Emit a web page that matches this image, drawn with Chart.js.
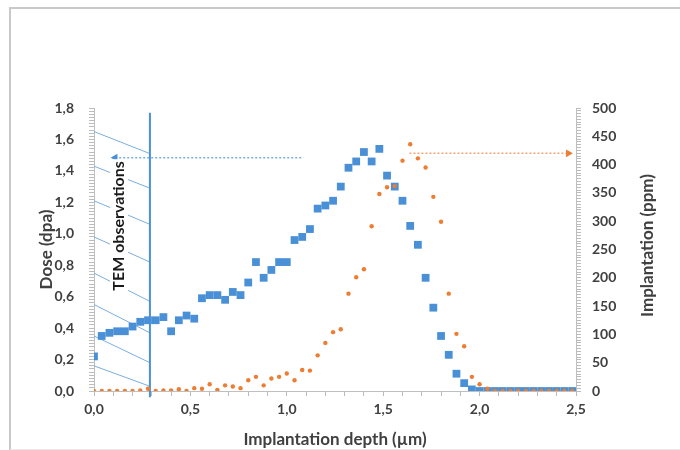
<!DOCTYPE html>
<html>
<head>
<meta charset="utf-8">
<script src="https://cdn.jsdelivr.net/npm/chart.js@4.4.0/dist/chart.umd.min.js"></script>
<style>
  html, body { margin: 0; padding: 0; background: #fff; overflow: hidden; }
  #frame { position: absolute; left: 9px; top: 7px; width: 700px; height: 440px;
           border-top: 2px solid #c9c9c9; border-left: 2px solid #c9c9c9; border-bottom: 1px solid #e8e8e8; }
  #wrap { position: absolute; left: 0; top: 0; width: 680px; height: 450px; }
</style>
</head>
<body>
<div id="frame"></div>
<div id="wrap"><canvas id="chart" width="680" height="450"></canvas></div>
<script>
// depth in µm
const depth = [
  0.00, 0.04, 0.08, 0.12, 0.16, 0.20, 0.24, 0.28, 0.32, 0.36,
  0.40, 0.44, 0.48, 0.52, 0.56, 0.60, 0.64, 0.68, 0.72, 0.76,
  0.80, 0.84, 0.88, 0.92, 0.96, 1.00, 1.04, 1.08, 1.12, 1.16,
  1.20, 1.24, 1.28, 1.32, 1.36, 1.40, 1.44, 1.48, 1.52, 1.56,
  1.60, 1.64, 1.68, 1.72, 1.76, 1.80, 1.84, 1.88, 1.92, 1.96,
  2.00, 2.04, 2.08, 2.12, 2.16, 2.20, 2.24, 2.28, 2.32, 2.36,
  2.40, 2.44, 2.48
];
// damage dose (dpa)
const dose = [
  0.22, 0.35, 0.37, 0.38, 0.38, 0.41, 0.44, 0.45, 0.45, 0.47,
  0.38, 0.45, 0.48, 0.46, 0.59, 0.61, 0.61, 0.58, 0.63, 0.61,
  0.69, 0.82, 0.72, 0.77, 0.82, 0.82, 0.96, 0.98, 1.03, 1.16,
  1.18, 1.21, 1.30, 1.42, 1.46, 1.52, 1.46, 1.54, 1.37, 1.30,
  1.21, 1.05, 0.93, 0.72, 0.53, 0.35, 0.23, 0.11, 0.05, 0.01,
  0.00, 0.00, 0.00, 0.00, 0.00, 0.00, 0.00, 0.00, 0.00, 0.00,
  0.00, 0.00, 0.00
];
// implanted concentration (ppm)
const ppm = [
  0, 0, 0, 0, 0, 0, 1, 4, 0, 1,
  1, 3, 0, 5, 4, 12, 2, 10, 8, 5,
  19, 25, 10, 22, 25, 31, 19, 37, 36, 63,
  85, 104, 109, 172, 201, 215, 291, 348, 360, 362,
  407, 436, 411, 395, 343, 299, 172, 101, 79, 25,
  12, 4, 0, 0, 0, 0, 0, 0, 0, 0,
  0, 0, 0
];

// TEM observation zone
const temDepth = 0.29;
const temLineDose = [1.77, -0.04];
const hatchStart = [1.65, 1.43, 1.21, 0.98, 0.75, 0.55, 0.35, 0.16];
const hatchEnd   = [1.51, 1.29, 1.06, 0.82, 0.57, 0.37, 0.18, 0.03];

// reading guides for the maxima
const doseGuide = { from: 0.11, to: 1.077, value: 1.484 };
const ppmGuide  = { from: 1.636, to: 2.46, value: 420 };

const BLUE = '#4a90d6';
const LIGHT_BLUE = '#7aaee0';
const ORANGE = '#ed7d31';
const TEXT = '#404040';
const TICK = '#bcbcbc';

Chart.defaults.font.family = 'Lato, "Open Sans", sans-serif';

const comma = (v, step) => {
  const k = v / step;
  if (Math.abs(k - Math.round(k)) > 1e-6) return '';
  return v.toFixed(step < 1 ? 1 : 0).replace('.', ',');
};

const hatchSets = hatchStart.map((s, i) => ({
  data: [{ x: 0, y: s }, { x: temDepth, y: hatchEnd[i] }],
  yAxisID: 'y',
  showLine: true,
  borderColor: LIGHT_BLUE,
  borderWidth: 1,
  pointRadius: 0,
  order: 5,
}));

const rightTitle = {
  id: 'rightTitle',
  afterDraw(chart) {
    const { ctx, chartArea } = chart;
    ctx.save();
    ctx.translate(648, (chartArea.top + chartArea.bottom) / 2 - 4);
    ctx.rotate(-Math.PI / 2);
    ctx.font = 'bold 17px Lato, "Open Sans", sans-serif';
    ctx.fillStyle = TEXT;
    ctx.textAlign = 'center';
    ctx.textBaseline = 'middle';
    ctx.fillText('Implantation (ppm)', 0, 0);
    ctx.restore();
  }
};

const temLabel = {
  id: 'temLabel',
  afterDatasetsDraw(chart) {
    const { ctx, scales } = chart;
    const cx = scales.x.getPixelForValue(0.13);
    const cy = scales.y.getPixelForValue(1.05);
    ctx.save();
    ctx.translate(cx, cy);
    ctx.rotate(-Math.PI / 2);
    ctx.font = 'bold 16px Lato, "Open Sans", sans-serif';
    const w = ctx.measureText('TEM observations').width;
    ctx.fillStyle = '#fff';
    ctx.fillRect(-w / 2 - 2, -9, w + 4, 18);
    ctx.fillStyle = '#1a1a1a';
    ctx.textAlign = 'center';
    ctx.textBaseline = 'middle';
    ctx.fillText('TEM observations', 0, 0);
    ctx.restore();
  }
};

const tickFont = { size: 14, weight: 'bold' };
const titleFont = { size: 17, weight: 'bold' };
// axis ticks only, no grid inside the plot
const axisGrid = () => ({
  display: true, drawOnChartArea: false, drawTicks: true, tickLength: 5,
  color: TICK, tickColor: TICK, lineWidth: 1, tickWidth: 1,
});

new Chart(document.getElementById('chart'), {
  type: 'scatter',
  data: {
    datasets: [
      {
        label: 'Dose',
        data: depth.map((d, i) => ({ x: d, y: dose[i] })),
        yAxisID: 'y',
        pointStyle: 'rect',
        pointRadius: 5.5,
        backgroundColor: BLUE,
        borderWidth: 0,
        order: 1,
      },
      {
        label: 'Implantation',
        data: depth.map((d, i) => ({ x: d, y: ppm[i] })),
        yAxisID: 'y1',
        pointStyle: 'circle',
        pointRadius: 2.2,
        backgroundColor: ORANGE,
        borderWidth: 0,
        order: 0,
      },
      {
        data: temLineDose.map(v => ({ x: temDepth, y: v })),
        yAxisID: 'y',
        showLine: true,
        borderColor: BLUE,
        borderWidth: 2,
        pointRadius: 0,
        clip: false,
        order: 4,
      },
      ...hatchSets,
      {
        data: [{ x: doseGuide.from, y: doseGuide.value }, { x: doseGuide.to, y: doseGuide.value }],
        yAxisID: 'y',
        showLine: true,
        borderColor: LIGHT_BLUE,
        borderWidth: 1.5,
        borderDash: [2, 2],
        pointStyle: 'triangle',
        rotation: -90,
        pointRadius: [3, 0],
        backgroundColor: BLUE,
        pointBorderColor: BLUE,
        order: 3,
      },
      {
        data: [{ x: ppmGuide.from, y: ppmGuide.value }, { x: ppmGuide.to, y: ppmGuide.value }],
        yAxisID: 'y1',
        showLine: true,
        borderColor: '#f3a673',
        borderWidth: 1.5,
        borderDash: [2, 2],
        pointStyle: 'triangle',
        rotation: 90,
        pointRadius: [0, 3],
        backgroundColor: ORANGE,
        pointBorderColor: ORANGE,
        order: 3,
      },
    ]
  },
  options: {
    responsive: false,
    animation: false,
    devicePixelRatio: 1,
    layout: { padding: { top: 108, left: 0, right: 0, bottom: 0 } },
    plugins: { legend: { display: false }, tooltip: { enabled: false } },
    scales: {
      x: {
        type: 'linear',
        min: 0,
        max: 2.5,
        afterFit: (s) => { s.height = 59; },
        border: { color: '#bfbfbf' },
        grid: axisGrid(),
        ticks: {
          stepSize: 0.1,
          autoSkip: false,
          maxRotation: 0,
          padding: 5,
          color: TEXT,
          font: tickFont,
          callback: (v) => comma(v, 0.5),
        },
        title: {
          display: true,
          text: 'Implantation depth (µm)',
          color: TEXT,
          font: titleFont,
          padding: { top: 3, bottom: 0 },
        },
      },
      y: {
        position: 'left',
        min: 0,
        max: 1.8,
        afterFit: (s) => { s.width = 94; },
        border: { color: '#bfbfbf' },
        grid: axisGrid(),
        ticks: {
          stepSize: 0.02,
          autoSkip: false,
          padding: 15,
          color: TEXT,
          font: tickFont,
          callback: (v) => comma(v, 0.2),
        },
        title: {
          display: true,
          text: 'Dose (dpa)',
          color: TEXT,
          font: titleFont,
          padding: { top: 36, bottom: 0 },
        },
      },
      y1: {
        position: 'right',
        min: 0,
        max: 500,
        afterFit: (s) => { s.width = 104; },
        border: { color: '#bfbfbf' },
        grid: axisGrid(),
        ticks: {
          stepSize: 5,
          autoSkip: false,
          padding: 11,
          color: TEXT,
          font: tickFont,
          callback: (v) => comma(v, 50),
        },
      },
    },
  },
  plugins: [rightTitle, temLabel],
});
</script>
</body>
</html>
